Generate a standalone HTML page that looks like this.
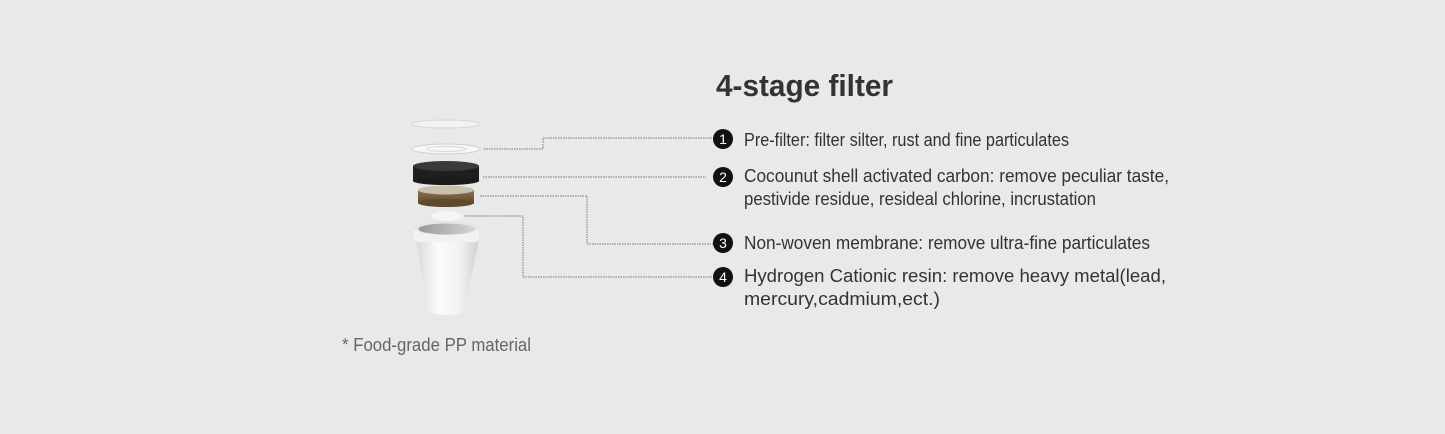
<!DOCTYPE html>
<html><head><meta charset="utf-8"><style>
html,body{margin:0;padding:0;background:#e9e9e9;}
svg{display:block;}
text{font-family:"Liberation Sans",sans-serif;}
</style></head><body>
<svg width="1445" height="434" viewBox="0 0 1445 434" xmlns="http://www.w3.org/2000/svg">
<defs>
<linearGradient id="cup" x1="0" x2="1" y1="0" y2="0">
<stop offset="0" stop-color="#d8d8d8"/><stop offset="0.35" stop-color="#fbfbfb"/><stop offset="0.7" stop-color="#f2f2f2"/><stop offset="1" stop-color="#cfcfcf"/></linearGradient>
<linearGradient id="brown" x1="0" x2="0" y1="0" y2="1">
<stop offset="0" stop-color="#8a7550"/><stop offset="1" stop-color="#5e4a2c"/></linearGradient>
<linearGradient id="inner" x1="0" x2="1"><stop offset="0" stop-color="#9a9a9a"/><stop offset="1" stop-color="#d5d5d5"/></linearGradient>
</defs>
<rect width="1445" height="434" fill="#e9e9e9"/>
<!-- discs -->
<ellipse cx="446" cy="124" rx="34" ry="4" fill="#f3f3f3" stroke="#d6d6d6" stroke-width="1"/>
<ellipse cx="446" cy="149" rx="34" ry="5" fill="#f7f7f7" stroke="#cfcfcf" stroke-width="1"/>
<ellipse cx="446" cy="149" rx="20" ry="2.5" fill="none" stroke="#d8d8d8"/>
<!-- black carbon -->
<rect x="413" y="166" width="66" height="15" fill="#1f1f1f"/>
<ellipse cx="446" cy="181" rx="33" ry="4" fill="#1a1a1a"/>
<ellipse cx="446" cy="166" rx="33" ry="5" fill="#3a3a3a"/>
<!-- brown -->
<rect x="418" y="190" width="56" height="13" fill="url(#brown)"/>
<ellipse cx="446" cy="203" rx="28" ry="4" fill="#5e4a2c"/>
<ellipse cx="446" cy="190" rx="28" ry="4.5" fill="#c9bfae"/>
<!-- small membrane -->
<ellipse cx="447" cy="216" rx="15" ry="5" fill="#f5f5f5"/>
<!-- cup -->
<path d="M416 240 L479 240 L464 312 Q446 318 428 312 Z" fill="url(#cup)"/>
<rect x="414" y="228" width="65" height="14" rx="3" fill="#f2f2f2"/>
<ellipse cx="446.5" cy="228" rx="32.5" ry="7" fill="#e6e6e6"/>
<ellipse cx="446.5" cy="229" rx="28" ry="5.5" fill="url(#inner)"/>
<!-- connectors -->
<g fill="none" stroke="#777" stroke-width="1" stroke-dasharray="1.5 1">
<polyline points="484,149 543,149 543,138 714,138"/>
<polyline points="483,177 706,177"/>
<polyline points="480,196 587,196 587,244 714,244"/>
<polyline points="464,216 523,216 523,277 714,277"/>
</g>
<!-- numbers -->
<g fill="#111">
<circle cx="723" cy="139" r="10"/><circle cx="723" cy="177" r="10"/>
<circle cx="723" cy="243" r="10"/><circle cx="723" cy="277" r="10"/>
</g>
<g fill="#fff" font-size="14" text-anchor="middle">
<text x="723" y="144">1</text><text x="723" y="182">2</text>
<text x="723" y="248">3</text><text x="723" y="282">4</text>
</g>
<text x="716" y="96" font-size="31" font-weight="bold" fill="#333" textLength="177" lengthAdjust="spacingAndGlyphs">4-stage filter</text>
<g fill="#333" font-size="18">
<text x="744" y="146" textLength="325" lengthAdjust="spacingAndGlyphs">Pre-filter: filter silter, rust and fine particulates</text>
<text x="744" y="182" textLength="425" lengthAdjust="spacingAndGlyphs">Cocounut shell activated carbon: remove peculiar taste,</text>
<text x="744" y="205" textLength="352" lengthAdjust="spacingAndGlyphs">pestivide residue,  resideal chlorine, incrustation</text>
<text x="744" y="249" textLength="406" lengthAdjust="spacingAndGlyphs">Non-woven membrane: remove ultra-fine particulates</text>
<text x="744" y="282" textLength="422" lengthAdjust="spacingAndGlyphs">Hydrogen Cationic resin: remove heavy metal(lead,</text>
<text x="744" y="305" textLength="196" lengthAdjust="spacingAndGlyphs">mercury,cadmium,ect.)</text>
</g>
<text x="342" y="351" font-size="18" fill="#666" textLength="189" lengthAdjust="spacingAndGlyphs">* Food-grade PP material</text>
</svg>
</body></html>
